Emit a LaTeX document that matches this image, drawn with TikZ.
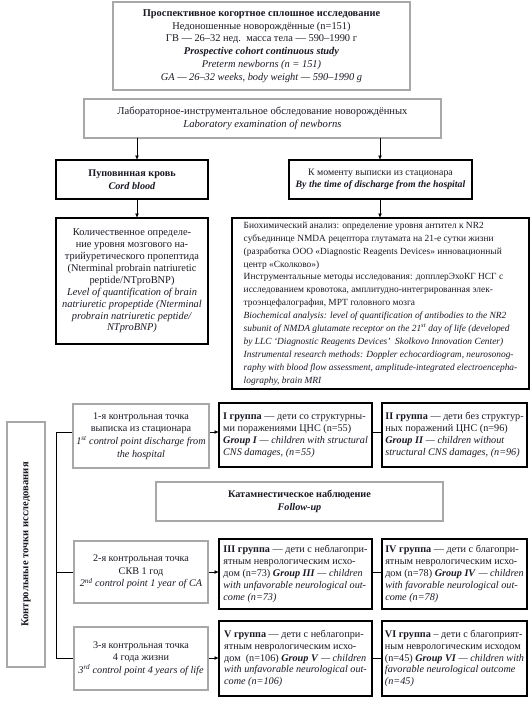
\documentclass[tikz,border=0pt]{standalone}
\usepackage{fontspec}
\setmainfont{Liberation Serif}
\usetikzlibrary{arrows.meta}
\pgfdeclarelayer{background}
\pgfsetlayers{background,main}
\definecolor{gb}{HTML}{A8A8A8}
\definecolor{tx}{HTML}{1A1A26}
\tikzset{
 base/.style={fill=white, text=tx, font=\fontsize{10.2}{12.6}\selectfont, inner xsep=3pt, inner ysep=2pt, outer sep=0pt, anchor=center},
 gbox/.style={base, draw=gb, line width=1.7pt, align=center},
 kbox/.style={base, draw=black, line width=1.2pt},
 arr/.style={-{Latex[length=4.5pt,width=4pt]}, line width=0.9pt, black},
 ln/.style={line width=0.9pt, black},
}
\begin{document}
\begin{tikzpicture}[x=1pt,y=-1pt]
\useasboundingbox (0,0) rectangle (531,701);

\node[gbox, minimum width=297pt, minimum height=88pt, font=\fontsize{10.4}{12.8}\selectfont] (top) at (261.5,46)
 {\textbf{Проспективное когортное сплошное исследование}\\
  Недоношенные новорождённые (n=151)\\
  ГВ — 26–32 нед.\ \ масса тела — 590–1990 г\\
  \textbf{\textit{Prospective cohort continuous study}}\\
  \textit{Preterm newborns (n = 151)}\\
  \textit{GA — 26–32 weeks, body weight — 590–1990 g}};

\node[gbox, minimum width=357pt, minimum height=39pt, font=\fontsize{10.6}{12.8}\selectfont] (lab) at (262.5,118.5)
 {Лабораторное-инструментальное обследование новорождённых\\
  \textit{Laboratory examination of newborns}};

\node[kbox, align=center, minimum width=152pt, minimum height=39pt] (cord) at (132,179.5)
 {\textbf{Пуповинная кровь}\\ \textbf{\textit{Cord blood}}};

\node[kbox, align=center, minimum width=152pt, minimum height=126pt, font=\fontsize{10.4}{11.9}\selectfont] (quant) at (132,281)
 {Количественное определе-\\
  ние уровня мозгового на-\\
  трийуретического пропептида\\
  (Nterminal probrain natriuretic\\
  peptide/NTproBNP)\\
  \textit{Level of quantification of brain}\\
  \textit{natriuretic propeptide (Nterminal}\\
  \textit{probrain natriuretic peptide/}\\
  \textit{NTproBNP)}};

\node[kbox, align=center, minimum width=183pt, minimum height=39pt, font=\fontsize{9.8}{12.6}\selectfont] (dis) at (380.5,179.5)
 {К моменту выписки из стационара\\
  \textbf{\textit{By the time of discharge from the hospital}}};

\node[kbox, align=left, minimum width=297pt, minimum height=171pt, font=\fontsize{9.4}{12.9}\selectfont] (big) at (380.5,303.5)
 {Биохимический анализ: определение уровня антител к NR2\\
  субъединице NMDA рецептора глутамата на 21-е сутки жизни\\
  (разработка ООО «Diagnostic Reagents Devices» инновационный\\
  центр «Сколково»)\\
  Инструментальные методы исследования: допплерЭхоКГ НСГ с\\
  исследованием кровотока, амплитудно-интегрированная элек-\\
  троэнцефалография, МРТ головного мозга\\
  \textit{Biochemical analysis: level of quantification of antibodies to the NR2}\\
  \textit{subunit of NMDA glutamate receptor on the 21\textsuperscript{st} day of life (developed}\\
  \textit{by LLC ‘Diagnostic Reagents Devices’\ \ Skolkovo Innovation Center)}\\
  \textit{Instrumental research methods: Doppler echocardiogram, neurosonog-}\\
  \textit{raphy with blood flow assessment, amplitude-integrated electroencepha-}\\
  \textit{lography, brain MRI}};

\node[gbox, minimum width=38pt, minimum height=245pt] (vbox) at (26,544.5) {};
\node[base, fill=none, rotate=90, font=\fontsize{10.6}{12.8}\selectfont\bfseries] (vtext) at (vbox.center)
 {Контрольные точки исследования};

\node[gbox, minimum width=134pt, minimum height=64pt] (cp1) at (141,436)
 {1-я контрольная точка\\ выписка из стационара\\
  \textit{1\textsuperscript{st} control point discharge from}\\ \textit{the hospital}};
\node[gbox, minimum width=287pt, minimum height=39pt] (fol) at (299.5,501.5)
 {\textbf{Катамнестическое наблюдение}\\ \textbf{\textit{Follow-up}}};
\node[gbox, minimum width=134pt, minimum height=62pt] (cp2) at (141,572)
 {2-я контрольная точка\\ СКВ 1 год\\
  \textit{2\textsuperscript{nd} control point 1 year of CA}};
\node[gbox, minimum width=134pt, minimum height=63pt] (cp3) at (141,658.5)
 {3-я контрольная точка\\ 4 года жизни\\
  \textit{3\textsuperscript{rd} control point 4 years of life}};

\tikzset{gtext/.style={font=\fontsize{10.2}{11.9}\selectfont}}
\node[kbox, gtext, align=left, minimum width=153pt, minimum height=64pt] (g1) at (295.5,435)
 {\textbf{I группа} — дети со структурны-\\
  ми поражениями ЦНС (n=55)\\
  \textbf{\textit{Group I}} \textit{— children with structural}\\
  \textit{CNS damages, (n=55)}};
\node[kbox, gtext, align=left, minimum width=145pt, minimum height=64pt] (g2) at (454.5,435)
 {\textbf{II группа} — дети без структур-\\
  ных поражений ЦНС (n=96)\\
  \textbf{\textit{Group II}} \textit{— children without}\\
  \textit{structural CNS damages, (n=96)}};
\node[kbox, gtext, align=left, minimum width=153pt, minimum height=70pt] (g3) at (295.5,574)
 {\textbf{III группа} — дети с неблагопри-\\
  ятным неврологическим исхо-\\
  дом (n=73) \textbf{\textit{Group III}} \textit{— children}\\
  \textit{with unfavorable neurological out-}\\
  \textit{come (n=73)}};
\node[kbox, gtext, align=left, minimum width=145pt, minimum height=70pt] (g4) at (454.5,574)
 {\textbf{IV группа} — дети с благопри-\\
  ятным неврологическим исхо-\\
  дом (n=78) \textbf{\textit{Group IV}} \textit{— children}\\
  \textit{with favorable neurological out-}\\
  \textit{come (n=78)}};
\node[kbox, gtext, align=left, minimum width=153pt, minimum height=75pt] (g5) at (295.5,658.5)
 {\textbf{V группа} — дети с неблагопри-\\
  ятным неврологическим исхо-\\
  дом\ \ (n=106) \textbf{\textit{Group V}} \textit{— children}\\
  \textit{with unfavorable neurological out-}\\
  \textit{come (n=106)}};
\node[kbox, gtext, align=left, minimum width=145pt, minimum height=75pt] (g6) at (454.5,658.5)
 {\textbf{VI группа} – дети с благоприят-\\
  ным неврологическим исходом\\
  (n=45) \textbf{\textit{Group VI}} \textit{— children with}\\
  \textit{favorable neurological outcome}\\
  \textit{(n=45)}};

% connectors
\coordinate (ax1) at (137,0);
\coordinate (ax2) at (380,0);
\draw[arr] (lab.south -| ax1) -- (cord.north -| ax1);
\draw[arr] (cord.south -| ax1) -- (quant.north -| ax1);
\draw[arr] (lab.south -| ax2) -- (dis.north -| ax2);
\draw[arr] (dis.south -| ax2) -- (big.north -| ax2);

\coordinate (r1) at (56,432);
\coordinate (r2) at (56,572);
\coordinate (r3) at (56,658);
\begin{pgfonlayer}{background}
\draw[ln] (r1) -- (r3);
\draw[arr] (r1) -- (r1 -| g1.west);
\draw[arr] (r2) -- (r2 -| g3.west);
\draw[arr] (r3) -- (r3 -| g5.west);
\end{pgfonlayer}
\draw[ln] (g1.east |- r1) -- (g2.west |- r1);
\draw[ln] (g3.east |- r2) -- (g4.west |- r2);
\draw[ln] (g5.east |- r3) -- (g6.west |- r3);
\end{tikzpicture}
\end{document}
